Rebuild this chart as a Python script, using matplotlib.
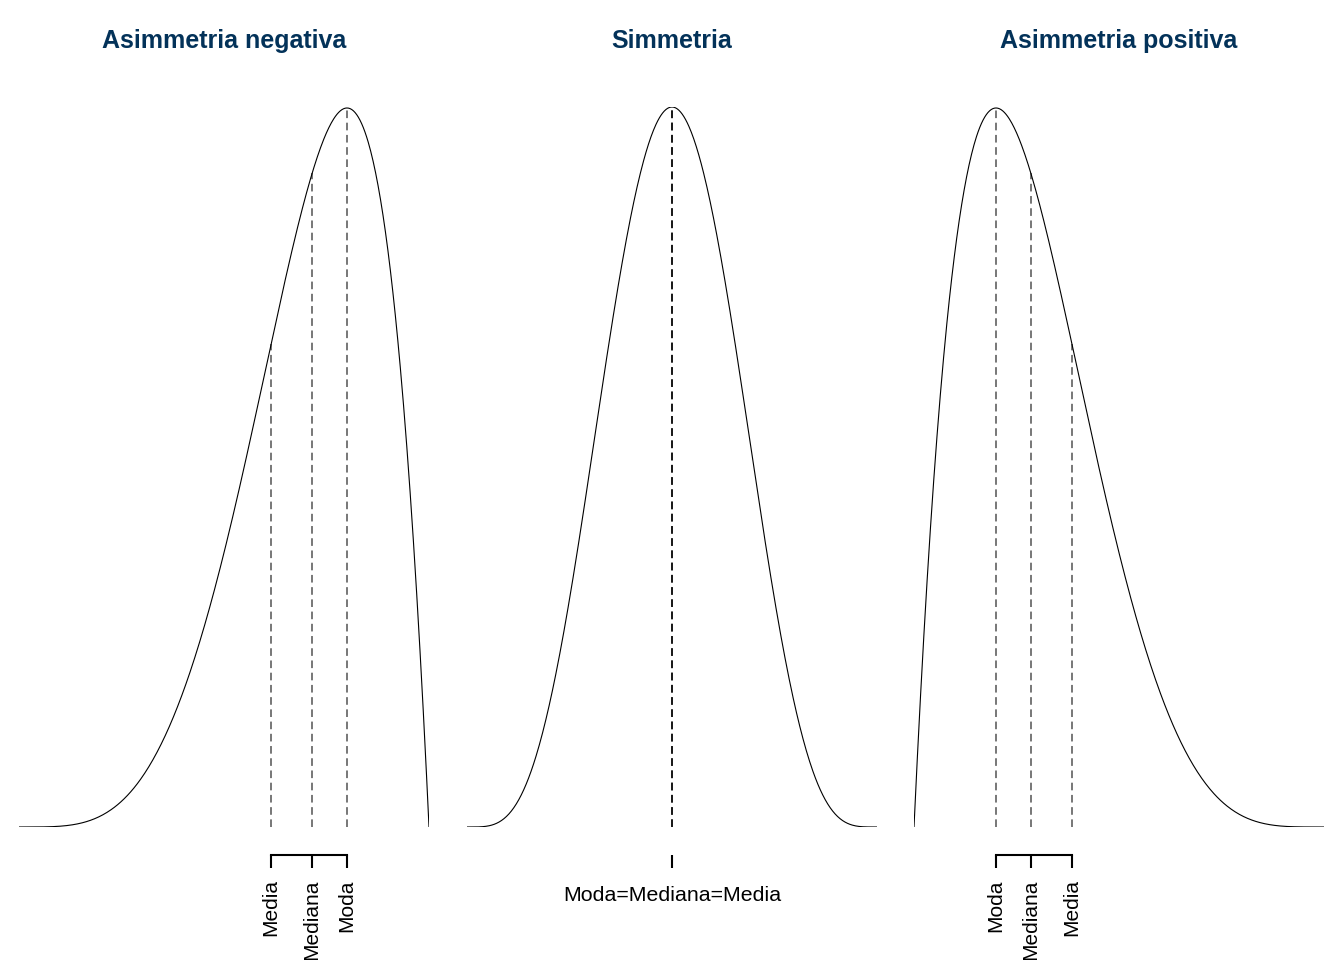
import numpy as np
import matplotlib
matplotlib.use("Agg")
import matplotlib.pyplot as plt
from math import gamma

plt.rcParams['font.family'] = ['Liberation Sans', 'DejaVu Sans']

# panel titles and beta shape parameters (a, b)
titles = ['Asimmetria negativa', 'Simmetria', 'Asimmetria positiva']
shapes = [(5, 2), (5, 5), (2, 5)]

# positions of the central-tendency markers (0..1 scale)
neg_pos = [0.615, 0.715, 0.8]
neg_lab = ['Media', 'Mediana', 'Moda']
sym_pos = [0.5, 0.5, 0.5]
sym_lab = ['Moda=Mediana=Media']
pos_pos = [0.2, 0.285, 0.385]
pos_lab = ['Moda', 'Mediana', 'Media']

marks = [(neg_pos, neg_lab), (sym_pos, sym_lab), (pos_pos, pos_lab)]
lefts = [19, 467, 914]

def dbeta(x, a, b):
    return gamma(a + b) / (gamma(a) * gamma(b)) * x ** (a - 1) * (1 - x) ** (b - 1)

W, H = 1344, 960
fig = plt.figure(figsize=(W / 100, H / 100), dpi=100)
ymax = dbeta(0.5, 5, 5)

for i in range(3):
    ax = fig.add_axes([lefts[i] / W, 133 / H, 410 / W, 720 / H])
    a, b = shapes[i]
    x = np.linspace(0, 1, 500)
    ax.plot(x, dbeta(x, a, b), color='black', lw=0.8)
    pos, lab = marks[i]
    for p in pos:
        ax.plot([p, p], [0, dbeta(p, a, b)], color='black', alpha=0.68,
                lw=1.1, dashes=(5, 3))
    ax.set_xlim(0, 1)
    ax.set_ylim(0, ymax)
    for s in ['top', 'left', 'right']:
        ax.spines[s].set_visible(False)
    ax.set_yticks([])
    ax.spines['bottom'].set_position(('outward', 20.2))
    ax.spines['bottom'].set_linewidth(1.5)
    ticks = sorted(set(pos))
    ax.spines['bottom'].set_bounds(min(ticks), max(ticks))
    ax.set_xticks(ticks)
    if len(ticks) > 1:
        ax.set_xticklabels(lab, rotation=90, fontsize=15)
        ax.tick_params(axis='x', length=9.4, width=1.5, pad=8)
    else:
        ax.set_xticklabels(lab, fontsize=15.4)
        ax.tick_params(axis='x', length=9.4, width=1.5, pad=13)
    fig.text((lefts[i] + 205) / W, 1 - 41 / H, titles[i], ha='center', va='center',
             fontsize=18, fontweight='bold', color='#033259')

fig.savefig('out.png', dpi=100)
